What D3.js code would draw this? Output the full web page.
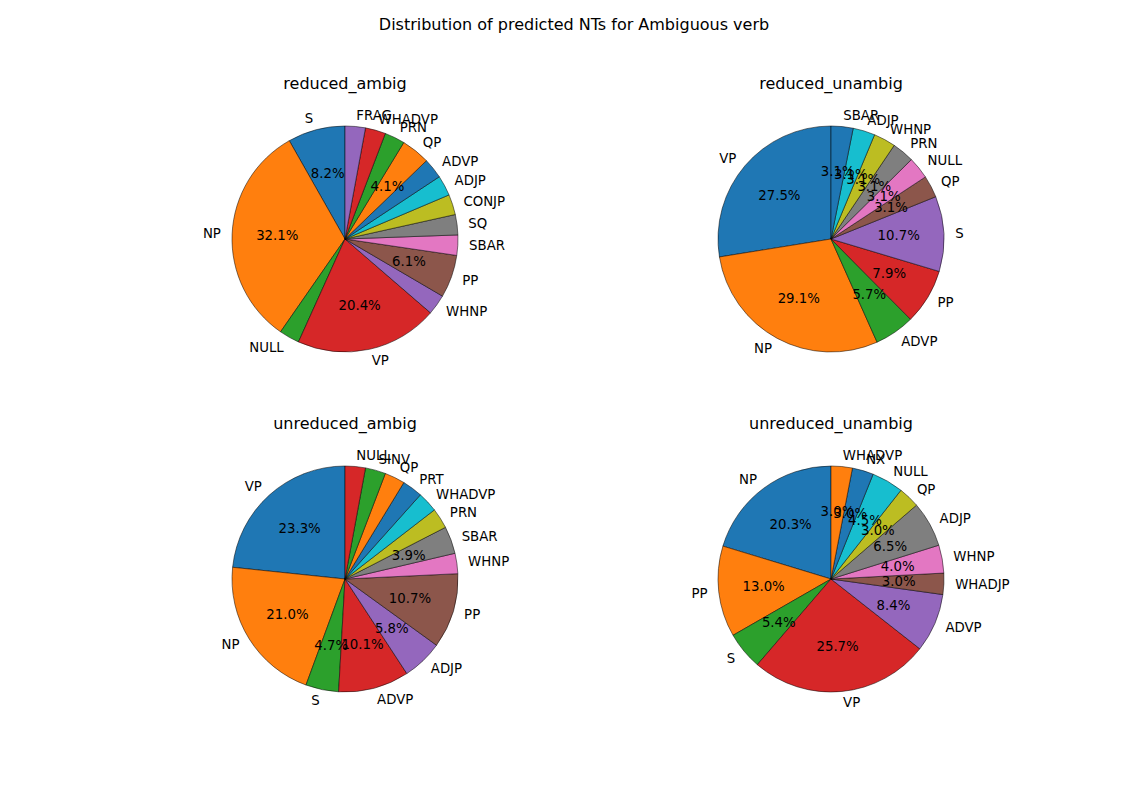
<!DOCTYPE html>
<html>
<head>
<meta charset="utf-8">
<script src="https://cdn.jsdelivr.net/npm/d3@7"></script>
<style>
body { margin: 0; background: #fff; }
text { font-family: "DejaVu Sans", sans-serif; }
</style>
</head>
<body>
<svg id="chart" width="1148" height="811"></svg>
<script>
// pie data, in drawing order (counterclockwise from 12 o'clock)
var reducedAmbigLabels = ['S', 'NP', 'NULL', 'VP', 'WHNP', 'PP', 'SBAR', 'SQ', 'CONJP', 'ADJP', 'ADVP', 'QP', 'PRN', 'WHADVP', 'FRAG'];
var reducedAmbigValues = [8.2, 32.1, 2.9, 20.4, 2.9, 6.1, 2.9, 2.9, 2.9, 2.9, 2.9, 4.1, 2.9, 2.9, 2.9];

var reducedUnambigLabels = ['VP', 'NP', 'ADVP', 'PP', 'S', 'QP', 'NULL', 'PRN', 'WHNP', 'ADJP', 'SBAR'];
var reducedUnambigValues = [27.54, 29.14, 5.74, 7.94, 10.74, 3.148, 3.148, 3.148, 3.148, 3.148, 3.148];

var unreducedAmbigLabels = ['VP', 'NP', 'S', 'ADVP', 'ADJP', 'PP', 'WHNP', 'SBAR', 'PRN', 'WHADVP', 'PRT', 'QP', 'SINV', 'NULL'];
var unreducedAmbigValues = [23.3, 21.0, 4.7, 10.1, 5.8, 10.7, 2.9, 3.9, 2.9, 2.9, 2.9, 2.9, 2.9, 2.9];

var unreducedUnambigLabels = ['NP', 'PP', 'S', 'VP', 'ADVP', 'WHADJP', 'WHNP', 'ADJP', 'QP', 'NULL', 'NX', 'WHADVP'];
var unreducedUnambigValues = [20.3, 13.0, 5.4, 25.7, 8.4, 3.04, 4.0, 6.5, 3.04, 4.54, 3.04, 3.04];

var panelTitles = ['reduced_ambig', 'reduced_unambig', 'unreduced_ambig', 'unreduced_unambig'];

var panels = [
	{ title: panelTitles[0], labels: reducedAmbigLabels, values: reducedAmbigValues, cx: 345, cy: 239 },
	{ title: panelTitles[1], labels: reducedUnambigLabels, values: reducedUnambigValues, cx: 831, cy: 239 },
	{ title: panelTitles[2], labels: unreducedAmbigLabels, values: unreducedAmbigValues, cx: 345, cy: 579 },
	{ title: panelTitles[3], labels: unreducedUnambigLabels, values: unreducedUnambigValues, cx: 831, cy: 579 }
];

var svg = d3.select('#chart');
var R = 113;
var color = d3.scaleOrdinal(d3.schemeCategory10);

svg.append('text')
	.attr('x', 574).attr('y', 24)
	.attr('text-anchor', 'middle').attr('dominant-baseline', 'central')
	.attr('font-size', 16)
	.text('Distribution of predicted NTs for Ambiguous verb');

var arc = d3.arc().innerRadius(0).outerRadius(R);

panels.forEach(function(p) {
	var g = svg.append('g').attr('transform', 'translate(' + p.cx + ',' + p.cy + ')');
	var total = d3.sum(p.values);
	color.domain([]);

	g.append('text')
		.attr('x', 0).attr('y', -156)
		.attr('text-anchor', 'middle').attr('dominant-baseline', 'central')
		.attr('font-size', 16)
		.text(p.title);

	// counterclockwise wedges starting at 90 degrees
	var theta = Math.PI / 2;
	var wedges = p.values.map(function(v, i) {
		var t1 = theta, t2 = theta + 2 * Math.PI * v / total;
		theta = t2;
		return { label: p.labels[i], value: v, pct: 100 * v / total, t1: t1, t2: t2, i: i };
	});

	wedges.forEach(function(w) {
		g.append('path')
			.attr('d', arc({ startAngle: Math.PI / 2 - w.t2, endAngle: Math.PI / 2 - w.t1 }))
			.attr('fill', color(w.i))
			.attr('stroke', '#000')
			.attr('stroke-width', 0.5)
			.attr('stroke-linejoin', 'round');
	});

	wedges.forEach(function(w) {
		var mid = (w.t1 + w.t2) / 2;
		var lx = 1.1 * R * Math.cos(mid), ly = -1.1 * R * Math.sin(mid);
		g.append('text')
			.attr('x', lx).attr('y', ly)
			.attr('text-anchor', lx > 0 ? 'start' : 'end')
			.attr('dominant-baseline', 'central')
			.attr('font-size', 13.3)
			.text(w.label);
		if (w.pct >= 2.95) {
			g.append('text')
				.attr('x', 0.6 * R * Math.cos(mid)).attr('y', -0.6 * R * Math.sin(mid))
				.attr('text-anchor', 'middle')
				.attr('dominant-baseline', 'central')
				.attr('font-size', 13.3)
				.text(w.pct.toFixed(1) + '%');
		}
	});
});
</script>
</body>
</html>
